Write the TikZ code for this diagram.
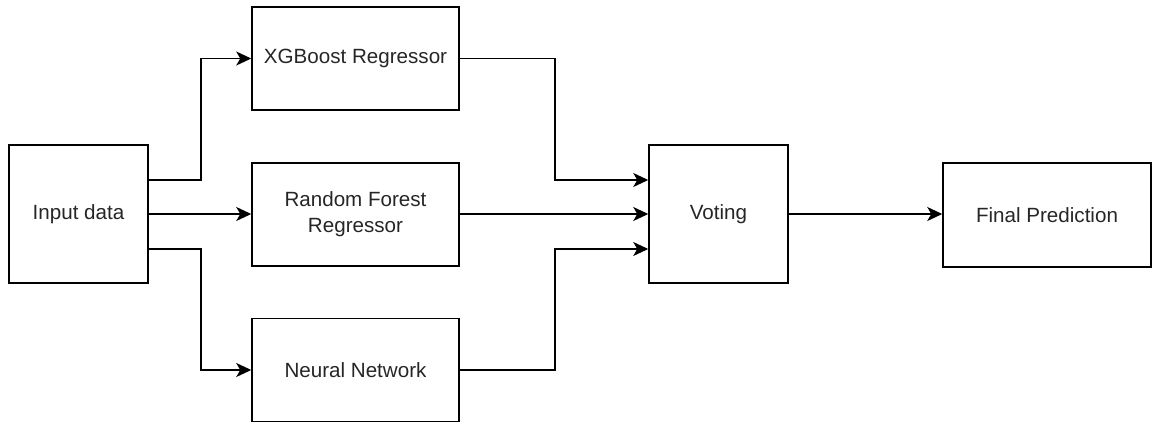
\documentclass[tikz,border=0pt]{standalone}
\usepackage{fontspec}
\setmainfont{Liberation Sans}
\usetikzlibrary{arrows.meta}
\begin{document}
\begin{tikzpicture}[x=1pt,y=-1pt,
  box/.style={draw=black, line width=1.5pt, rectangle, align=center, inner sep=0pt,
    font=\fontsize{20.6}{26}\selectfont, text=black!85},
  conn/.style={line width=1.5pt, -{Stealth[length=15pt,width=14pt,inset=4pt]}}]
\useasboundingbox (0,0) rectangle (1155,423);
\node[box, minimum width=139pt, minimum height=138pt] (in) at (78.5,214) {Input data};
\node[box, minimum width=207pt, minimum height=103pt] (xgb) at (355.5,58.5) {XGBoost Regressor};
\node[box, minimum width=207pt, minimum height=103pt] (rf) at (355.5,214.5) {Random Forest\\Regressor};
\node[box, minimum width=207pt, minimum height=103pt] (nn) at (355.5,370) {Neural Network};
\node[box, minimum width=139pt, minimum height=138pt] (vot) at (718.5,214) {Voting};
\node[box, minimum width=208pt, minimum height=104pt] (fin) at (1047,215) {Final Prediction};
\draw[conn] ([yshift=34pt]in.east) -- ++(52,0) |- (xgb.west);
\draw[conn] (in.east) -- (in.east -| rf.west);
\draw[conn] ([yshift=-35pt]in.east) -- ++(52,0) |- (nn.west);
\draw[conn] (xgb.east) -- ++(95,0) |- ([yshift=34pt]vot.west);
\draw[conn] (rf.east |- vot.west) -- (vot.west);
\draw[conn] (nn.east) -- ++(95,0) |- ([yshift=-35pt]vot.west);
\draw[conn] (vot.east) -- (vot.east -| fin.west);
\end{tikzpicture}
\end{document}
